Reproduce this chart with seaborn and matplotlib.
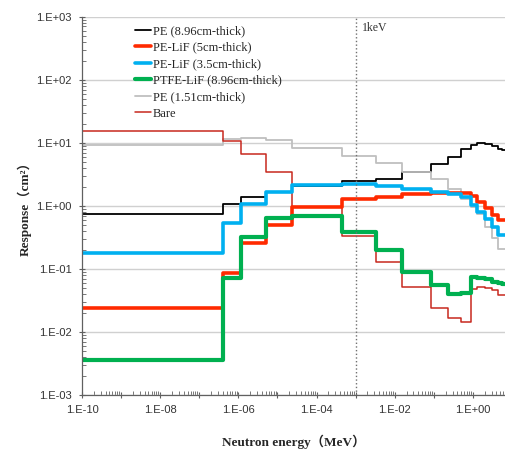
import matplotlib
matplotlib.use("Agg")
import matplotlib.pyplot as plt
import matplotlib.ticker as mticker
from matplotlib.lines import Line2D
import numpy as np
import pandas as pd
import seaborn as sns

sns.set_theme(style="white")
plt.rcParams["font.family"] = ["Liberation Serif", "Noto Sans CJK JP"]

# group boundaries (MeV), shared by all detectors
edges_mev = [1e-10, 4.1e-7, 1.2e-6, 5.1e-6, 2.4e-5, 4.6e-4, 3.3e-3, 1.5e-2, 8.3e-2,
             0.23, 0.49, 0.88, 1.3, 2.0, 3.0, 4.3, 5.5, 7.0]

# response (cm^2) per energy group
pe_896 = [0.73, 1.07, 1.36, 1.65, 2.1, 2.48, 2.67, 3.4, 4.6, 6.0, 7.9, 9.2, 9.8, 9.5, 8.9, 7.9, 7.7]
pe_lif_5 = [0.0243, 0.087, 0.26, 0.50, 0.97, 1.27, 1.40, 1.54, 1.62, 1.62, 1.58, 1.41, 1.17, 0.92, 0.72, 0.60, 0.60]
pe_lif_35 = [0.18, 0.53, 1.06, 1.68, 2.14, 2.22, 2.09, 1.85, 1.68, 1.54, 1.36, 1.03, 0.81, 0.62, 0.47, 0.35, 0.35]
ptfe_lif = [0.0036, 0.071, 0.32, 0.65, 0.68, 0.39, 0.20, 0.088, 0.056, 0.040, 0.042, 0.075, 0.073, 0.068, 0.062, 0.059, 0.058]
pe_151 = [9.2, 11.5, 12.0, 11.1, 8.2, 6.2, 4.7, 3.4, 2.65, 1.83, 1.29, 0.95, 0.75, 0.47, 0.31, 0.21, 0.21]
bare = [15.4, 10.8, 6.6, 3.5, 0.95, 0.33, 0.13, 0.051, 0.0237, 0.0165, 0.0145, 0.048, 0.052, 0.050, 0.046, 0.039, 0.038]

legend_order = ["PE (8.96cm-thick)", "PE-LiF (5cm-thick)", "PE-LiF (3.5cm-thick)",
                "PTFE-LiF (8.96cm-thick)", "PE (1.51cm-thick)", "Bare"]
series = {
    "PE (8.96cm-thick)": pe_896,
    "PE (1.51cm-thick)": pe_151,
    "Bare": bare,
    "PE-LiF (5cm-thick)": pe_lif_5,
    "PE-LiF (3.5cm-thick)": pe_lif_35,
    "PTFE-LiF (8.96cm-thick)": ptfe_lif,
}
colors = {
    "PE (8.96cm-thick)": "#000000",
    "PE-LiF (5cm-thick)": "#FF2A00",
    "PE-LiF (3.5cm-thick)": "#00B0F0",
    "PTFE-LiF (8.96cm-thick)": "#00B050",
    "PE (1.51cm-thick)": "#BFBFBF",
    "Bare": "#C8281E",
}
widths = {
    "PE (8.96cm-thick)": 1.3,
    "PE-LiF (5cm-thick)": 2.6,
    "PE-LiF (3.5cm-thick)": 2.6,
    "PTFE-LiF (8.96cm-thick)": 3.0,
    "PE (1.51cm-thick)": 1.3,
    "Bare": 1.1,
}

fig = plt.figure(figsize=(5.06, 4.53), dpi=100)
ax = fig.add_axes([82 / 506, 1 - 395 / 453, 1 - 82 / 506, (395 - 16.7) / 453])

for name, vals in series.items():
    df = pd.DataFrame({"energy": edges_mev, "response": vals + [vals[-1]]})
    sns.lineplot(data=df, x="energy", y="response", ax=ax, color=colors[name],
                 linewidth=widths[name], drawstyle="steps-post", sort=False,
                 estimator=None, legend=False)

ax.set_xscale("log")
ax.set_yscale("log")
ax.set_xlim(1e-10, 7.0)
ax.set_ylim(1e-3, 1e3)

ax.axvline(1e-3, color="#707070", linestyle=":", linewidth=1.0)
ax.text(1.45e-3, 650, "1keV", fontsize=8.5, color="#333333", va="center")

ax.grid(axis="y", which="major", color="#D0D0D0", linewidth=1.0)
ax.grid(axis="x", visible=False)
ax.set_axisbelow(True)

for side in ["top", "right"]:
    ax.spines[side].set_visible(False)
for side in ["left", "bottom"]:
    ax.spines[side].set_color("#606060")
    ax.spines[side].set_linewidth(0.9)


def sci_label(v, pos):
    exp = int(round(np.log10(v)))
    return f"1.E{exp:+03d}"


def even_label(v, pos):
    exp = int(round(np.log10(v)))
    return f"1.E{exp:+03d}" if exp % 2 == 0 else ""


ax.xaxis.set_major_locator(mticker.LogLocator(base=10, numticks=30))
ax.xaxis.set_minor_locator(mticker.LogLocator(base=10, subs=range(2, 10), numticks=200))
ax.xaxis.set_major_formatter(mticker.FuncFormatter(even_label))
ax.xaxis.set_minor_formatter(mticker.NullFormatter())
ax.yaxis.set_major_locator(mticker.LogLocator(base=10, numticks=30))
ax.yaxis.set_minor_locator(mticker.LogLocator(base=10, subs=range(2, 10), numticks=200))
ax.yaxis.set_major_formatter(mticker.FuncFormatter(sci_label))
ax.yaxis.set_minor_formatter(mticker.NullFormatter())

ax.tick_params(axis="both", which="major", direction="inout", length=5, width=0.8,
               color="#606060", labelsize=8, labelcolor="#333333", pad=5)
ax.tick_params(axis="both", which="minor", direction="in", length=3, width=0.6, color="#606060")
ax.tick_params(axis="x", which="both", bottom=True)
ax.tick_params(axis="y", which="both", left=True)
for lbl in ax.get_xticklabels() + ax.get_yticklabels():
    lbl.set_family("Liberation Sans")

ax.set_xlabel("Neutron energy（MeV）", fontsize=9.5, fontweight="bold", labelpad=14)
ax.set_ylabel("Response（cm²）", fontsize=9.5, fontweight="bold", labelpad=3)

handles = [Line2D([0], [0], color=colors[n], linewidth=widths[n], label=n) for n in legend_order]
ax.legend(handles=handles, loc="upper left", bbox_to_anchor=(0.125, 0.978),
          borderaxespad=0, borderpad=0, frameon=False, fontsize=9,
          handlelength=1.25, handletextpad=0.2, labelspacing=0.36)

fig.savefig("out.png", dpi=100)
